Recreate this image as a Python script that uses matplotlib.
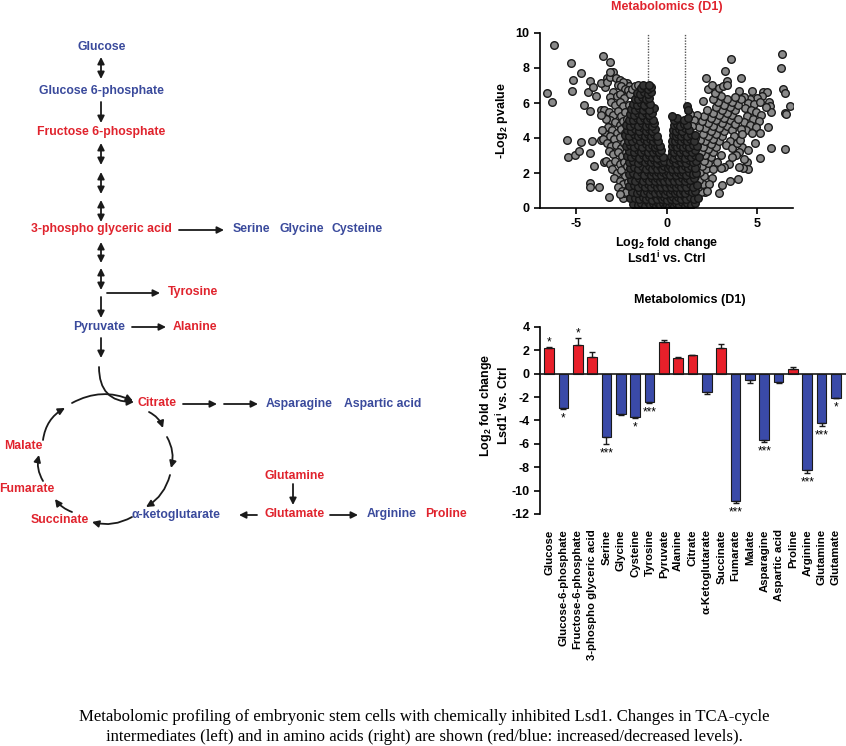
import matplotlib
matplotlib.use('Agg')
import matplotlib.pyplot as plt

plt.rcParams['font.family'] = ['Liberation Sans', 'DejaVu Sans']
plt.rcParams['font.weight'] = 'bold'
plt.rcParams['axes.unicode_minus'] = False
plt.rcParams['mathtext.fontset'] = 'custom'
plt.rcParams['mathtext.rm'] = 'Liberation Sans:bold'
plt.rcParams['mathtext.bf'] = 'Liberation Sans:bold'
plt.rcParams['mathtext.it'] = 'Liberation Sans:bold'
plt.rcParams['mathtext.default'] = 'bf'

RED = '#e0232d'
BLUE = '#3a4a9c'
BAR_RED = '#e8202a'
BAR_BLUE = '#3a4aa8'

# ---- bar chart data (log2 fold change, Lsd1i vs Ctrl) ----
bar_names = ['Glucose', 'Glucose-6-phosphate', 'Fructose-6-phosphate', '3-phospho glyceric acid',
             'Serine', 'Glycine', 'Cysteine', 'Tyrosine', 'Pyruvate', 'Alanine', 'Citrate',
             'α-Ketoglutarate', 'Succinate', 'Fumarate', 'Malate', 'Asparagine', 'Aspartic acid',
             'Proline', 'Arginine', 'Glutamine', 'Glutamate']
bar_values = [2.18, -2.9, 2.45, 1.42, -5.45, -3.45, -3.68, -2.45, 2.72, 1.38, 1.57,
              -1.55, 2.22, -10.9, -0.55, -5.7, -0.73, 0.42, -8.2, -4.2, -2.05]
bar_errors = [0.07, 0.08, 0.6, 0.45, 0.55, 0.05, 0.1, 0.08, 0.2, 0.05, 0.06,
              0.22, 0.32, 0.15, 0.28, 0.1, 0.07, 0.15, 0.25, 0.28, 0.05]
bar_stars = ['*', '*', '*', '', '***', '', '*', '***', '', '', '',
             '', '', '***', '', '***', '', '', '***', '***', '*']

# ---- volcano data (log2 fold change, -log2 pvalue) ----
outliers_left = [(-6.22, 9.31), (-5.3, 8.3), (-3.54, 8.69), (-3.11, 8.32), (-4.74, 7.73), (-5.2, 7.31),
                 (-4.24, 7.26), (-5.24, 6.69), (-6.59, 6.59), (-6.32, 6.07), (-4.37, 6.61), (-4.06, 6.9),
                 (-3.91, 6.42), (-4.56, 5.89), (-4.24, 5.56), (-3.63, 5.6), (-5.48, 3.89), (-4.74, 3.79),
                 (-4.13, 3.83), (-3.63, 3.89), (-5.43, 2.93), (-5.06, 3.03), (-4.83, 3.28), (-4.22, 3.16),
                 (-4.0, 2.42), (-3.44, 2.65), (-4.22, 1.45), (-4.22, 1.18), (-3.76, 1.22), (-3.2, 0.65),
                 (-2.43, 0.55), (-2.33, 0.86), (-3.4, 6.9), (-3.6, 7.15), (-3.3, 7.45), (-2.2, 7.15),
                 (-2.05, 6.95)]
outliers_right = [(6.37, 8.8), (6.33, 7.98), (3.59, 8.5), (3.22, 7.85), (2.2, 7.45), (4.15, 7.45),
                  (3.35, 7.28), (6.46, 6.78), (6.56, 6.59), (6.83, 5.83), (6.56, 5.41), (6.6, 5.35),
                  (6.56, 3.37), (5.78, 3.45), (4.89, 3.7), (5.17, 2.84), (4.43, 2.65), (4.52, 2.21),
                  (4.24, 2.27), (4.02, 2.32), (3.46, 2.51), (3.17, 2.36), (3.04, 2.27), (3.96, 1.64),
                  (3.5, 1.56), (3.09, 1.31), (2.91, 0.84), (2.11, 0.93), (2.0, 6.1), (2.3, 6.8), (2.5, 7.0)]
far_right = [(4.0, 6.7), (4.75, 6.7), (5.35, 6.65), (5.55, 6.6), (5.3, 6.4), (5.0, 6.3), (4.6, 6.25),
             (4.3, 6.35), (4.5, 6.0), (4.85, 5.95), (5.2, 6.05), (5.65, 6.05), (5.75, 5.8), (5.8, 5.5),
             (5.5, 5.75), (4.35, 5.7), (4.65, 5.6), (4.95, 5.5), (5.25, 5.3), (4.45, 5.25), (4.8, 5.1),
             (5.1, 4.95), (4.3, 4.9), (4.6, 4.75), (4.95, 4.6), (5.6, 4.65), (5.15, 4.3), (4.4, 4.45),
             (4.75, 4.3), (4.2, 3.5), (4.0, 3.2), (4.5, 3.3), (3.85, 3.0), (3.6, 2.9), (4.3, 2.8)]
mid_left = [(-3.3, 7.2), (-3.1, 7.5), (-2.95, 7.75), (-3.15, 7.78), (-2.8, 7.45), (-2.6, 7.3), (-2.4, 7.22),
            (-2.7, 7.05), (-2.5, 6.95), (-2.3, 6.8), (-2.15, 6.75), (-2.95, 6.6), (-3.15, 6.35), (-2.75, 6.4),
            (-2.55, 6.5), (-2.35, 6.3), (-3.05, 6.05), (-2.85, 5.9), (-2.6, 6.05), (-2.4, 5.8), (-3.45, 5.6),
            (-3.2, 5.5), (-2.95, 5.3), (-2.7, 5.55), (-2.5, 5.25), (-2.3, 5.5), (-3.1, 5.0), (-2.85, 4.9),
            (-2.6, 4.75), (-2.4, 4.95), (-3.25, 4.6), (-3.0, 4.45), (-2.75, 4.3), (-2.5, 4.5), (-3.4, 4.2),
            (-3.15, 4.1), (-2.9, 3.95), (-2.6, 4.05), (-3.5, 3.95), (-3.3, 3.7), (-3.05, 3.55), (-2.8, 3.6),
            (-2.5, 3.4), (-3.2, 3.25), (-2.95, 3.1), (-2.7, 3.2), (-2.45, 2.95), (-3.35, 2.7), (-3.1, 2.5),
            (-2.85, 2.7), (-2.6, 2.5), (-2.35, 2.6), (-3.0, 2.2), (-2.75, 2.0), (-2.5, 2.15), (-2.3, 1.85),
            (-2.9, 1.7), (-2.6, 1.55), (-2.4, 1.35), (-2.7, 1.2), (-2.45, 1.0), (-2.25, 0.9), (-2.55, 0.8),
            (-2.15, 1.5), (-2.2, 2.4), (-2.25, 3.2), (-2.35, 3.7), (-2.3, 4.3), (-2.2, 5.1), (-2.1, 5.9),
            (-2.0, 6.5), (-1.9, 6.8), (-1.75, 6.95), (-1.6, 7.0), (-3.35, 5.1), (-3.6, 5.3), (-3.55, 4.45)]
mid_right = [(1.7, 0.6), (1.9, 0.9), (1.75, 1.2), (2.0, 1.4), (1.8, 1.6), (2.1, 1.8), (1.85, 2.05), (2.2, 2.2),
             (1.95, 2.4), (2.3, 2.55), (2.05, 2.7), (2.45, 2.9), (2.15, 3.05), (1.9, 3.2), (2.6, 3.2),
             (2.3, 3.35), (2.0, 3.5), (2.75, 3.5), (2.45, 3.65), (2.15, 3.8), (1.85, 3.9), (2.9, 3.8),
             (2.6, 3.95), (2.3, 4.1), (2.0, 4.25), (3.05, 4.1), (2.75, 4.25), (2.45, 4.4), (2.15, 4.55),
             (1.8, 4.6), (3.2, 4.4), (2.9, 4.55), (2.6, 4.7), (2.3, 4.85), (1.95, 4.95), (3.35, 4.7),
             (3.05, 4.85), (2.75, 5.0), (2.45, 5.15), (2.1, 5.25), (1.7, 5.3), (3.5, 5.0), (3.2, 5.15),
             (2.9, 5.3), (2.6, 5.45), (2.25, 5.6), (3.65, 5.3), (3.35, 5.45), (3.05, 5.6), (2.75, 5.75),
             (3.8, 5.6), (3.5, 5.75), (3.2, 5.9), (2.85, 6.05), (2.55, 6.2), (3.95, 5.9), (3.65, 6.05),
             (3.35, 6.2), (3.0, 6.4), (2.7, 6.55), (4.1, 6.2), (3.8, 6.35), (2.9, 6.85), (3.15, 6.95),
             (3.35, 7.0), (3.6, 4.45), (3.8, 4.8), (3.95, 5.1), (4.1, 4.5), (3.75, 4.1), (3.5, 3.85),
             (3.3, 3.6), (3.6, 3.4), (3.9, 3.7), (4.05, 3.9), (4.2, 4.2), (1.6, 4.0), (1.65, 2.4), (1.55, 1.8),
             (2.5, 1.7), (2.35, 1.35), (2.25, 1.0), (2.6, 2.2), (2.8, 2.6), (3.0, 3.0), (1.5, 5.0), (1.4, 4.7),
             (1.3, 5.35), (1.45, 0.8)]
core_base = [(-1.85, 0.25), (-1.6, 0.15), (-1.4, 0.3), (-1.2, 0.12), (-1.05, 0.35), (-0.9, 0.18), (-0.75, 0.3),
             (-0.6, 0.1), (-0.48, 0.28), (-0.35, 0.15), (-0.22, 0.3), (-0.1, 0.08), (0.02, 0.2), (0.15, 0.05),
             (0.28, 0.25), (0.4, 0.12), (0.55, 0.3), (0.7, 0.15), (0.85, 0.32), (1.0, 0.1), (1.15, 0.28),
             (1.35, 0.18), (1.6, 0.3),
             (-2.0, 0.55), (-1.75, 0.6), (-1.5, 0.5), (-1.3, 0.65), (-1.12, 0.5), (-0.95, 0.62), (-0.8, 0.48),
             (-0.65, 0.66), (-0.5, 0.52), (-0.38, 0.7), (-0.25, 0.5), (-0.12, 0.62), (0.0, 0.45), (0.12, 0.68),
             (0.25, 0.5), (0.38, 0.65), (0.5, 0.48), (0.65, 0.62), (0.8, 0.5), (0.95, 0.66), (1.1, 0.5),
             (1.3, 0.62), (1.5, 0.52), (1.75, 0.58),
             (-1.9, 0.9), (-1.65, 0.85), (-1.45, 1.0), (-1.25, 0.85), (-1.08, 0.98), (-0.92, 0.82), (-0.78, 1.02),
             (-0.62, 0.88), (-0.48, 1.05), (-0.35, 0.85), (-0.22, 0.98), (-0.1, 0.82), (0.05, 1.0), (0.18, 0.85),
             (0.3, 1.02), (0.45, 0.88), (0.6, 1.0), (0.75, 0.84), (0.9, 1.0), (1.05, 0.86), (1.2, 1.02),
             (1.4, 0.9), (1.6, 1.0),
             (-2.05, 1.25), (-1.8, 1.3), (-1.58, 1.18), (-1.38, 1.35), (-1.18, 1.2), (-1.0, 1.38), (-0.85, 1.2),
             (-0.7, 1.36), (-0.55, 1.18), (-0.42, 1.35), (-0.28, 1.2), (-0.15, 1.38), (-0.02, 1.2), (0.12, 1.35),
             (0.25, 1.18), (0.38, 1.36), (0.52, 1.2), (0.66, 1.38), (0.8, 1.2), (0.95, 1.35), (1.1, 1.2),
             (1.28, 1.36), (1.48, 1.22), (1.7, 1.32),
             (-1.95, 1.6), (-1.72, 1.55), (-1.5, 1.7), (-1.3, 1.55), (-1.12, 1.72), (-0.95, 1.55), (-0.8, 1.7),
             (-0.65, 1.52), (-0.52, 1.7), (-0.38, 1.55), (-0.25, 1.72), (-0.12, 1.55), (0.02, 1.7), (0.15, 1.52),
             (0.28, 1.7), (0.42, 1.55), (0.56, 1.72), (0.7, 1.55), (0.85, 1.7), (1.0, 1.55), (1.15, 1.72),
             (1.32, 1.58), (1.52, 1.7),
             (-2.1, 1.95), (-1.85, 2.0), (-1.62, 1.88), (-1.42, 2.05), (-1.22, 1.9), (-1.05, 2.08), (-0.88, 1.9),
             (-0.72, 2.05), (-0.58, 1.88), (-0.45, 2.05), (-0.32, 1.9), (-0.18, 2.08), (-0.05, 1.92), (0.1, 2.05),
             (0.22, 1.88), (0.36, 2.05), (0.5, 1.9), (0.64, 2.08), (0.78, 1.92), (0.92, 2.05), (1.08, 1.9),
             (1.25, 2.05), (1.45, 1.92), (1.65, 2.02),
             (-2.0, 2.3), (-1.78, 2.35), (-1.55, 2.22), (-1.35, 2.4), (-1.15, 2.25), (-0.98, 2.42), (-0.82, 2.25),
             (-0.66, 2.4), (-0.52, 2.22), (-0.38, 2.4), (-0.25, 2.25), (-0.12, 2.4), (0.08, 2.3), (0.2, 2.42),
             (0.33, 2.25), (0.46, 2.4), (0.6, 2.22), (0.74, 2.4), (0.88, 2.25), (1.02, 2.42), (1.18, 2.28),
             (1.36, 2.4), (1.58, 2.3)]
core_left = [(-2.1, 2.6), (-1.85, 2.7), (-1.6, 2.58), (-1.4, 2.72), (-1.2, 2.6), (-1.02, 2.75), (-0.85, 2.6),
             (-0.7, 2.72), (-0.55, 2.58), (-0.4, 2.75), (-0.26, 2.6), (-0.12, 2.7),
             (-2.2, 2.95), (-1.95, 2.9), (-1.72, 3.02), (-1.5, 2.88), (-1.3, 3.0), (-1.12, 2.9), (-0.95, 3.05),
             (-0.8, 2.9), (-0.64, 3.02), (-0.5, 2.88), (-0.35, 3.0), (-0.2, 2.9),
             (-2.05, 3.25), (-1.82, 3.2), (-1.6, 3.32), (-1.4, 3.18), (-1.22, 3.3), (-1.05, 3.2), (-0.88, 3.35),
             (-0.72, 3.2), (-0.58, 3.32), (-0.42, 3.2), (-0.28, 3.3),
             (-2.25, 3.55), (-2.0, 3.6), (-1.78, 3.5), (-1.55, 3.62), (-1.35, 3.5), (-1.15, 3.65), (-0.98, 3.5),
             (-0.82, 3.62), (-0.66, 3.5), (-0.5, 3.62), (-0.36, 3.52),
             (-2.15, 3.85), (-1.9, 3.8), (-1.68, 3.92), (-1.45, 3.8), (-1.25, 3.95), (-1.08, 3.8), (-0.92, 3.92),
             (-0.76, 3.8), (-0.6, 3.95), (-0.45, 3.82),
             (-2.3, 4.15), (-2.05, 4.1), (-1.82, 4.22), (-1.6, 4.1), (-1.4, 4.25), (-1.2, 4.1), (-1.02, 4.22),
             (-0.86, 4.1), (-0.7, 4.25), (-0.55, 4.12),
             (-2.2, 4.45), (-1.95, 4.4), (-1.72, 4.52), (-1.5, 4.4), (-1.3, 4.55), (-1.12, 4.4), (-0.95, 4.52),
             (-0.8, 4.4), (-0.65, 4.5),
             (-2.25, 4.75), (-2.0, 4.7), (-1.78, 4.82), (-1.55, 4.7), (-1.35, 4.85), (-1.15, 4.7), (-0.98, 4.82),
             (-0.82, 4.7), (-0.7, 4.85),
             (-2.1, 5.05), (-1.88, 5.0), (-1.65, 5.12), (-1.45, 5.0), (-1.25, 5.15), (-1.06, 5.0), (-0.9, 5.12),
             (-0.75, 5.02),
             (-2.0, 5.35), (-1.78, 5.3), (-1.55, 5.42), (-1.35, 5.3), (-1.15, 5.45), (-0.98, 5.32), (-0.82, 5.45),
             (-0.68, 5.7),
             (-1.95, 5.65), (-1.72, 5.6), (-1.5, 5.72), (-1.3, 5.6), (-1.12, 5.75), (-0.95, 5.6),
             (-1.85, 5.95), (-1.62, 5.9), (-1.42, 6.02), (-1.22, 5.9), (-1.05, 6.05), (-0.9, 5.92),
             (-1.75, 6.25), (-1.55, 6.2), (-1.35, 6.32), (-1.15, 6.2), (-0.98, 6.3),
             (-1.65, 6.55), (-1.45, 6.5), (-1.25, 6.6), (-1.05, 6.5), (-0.88, 6.62),
             (-1.4, 6.85), (-1.22, 6.95), (-1.05, 6.8), (-0.88, 6.92), (-1.3, 7.05), (-0.95, 7.05)]
core_right = [(0.22, 2.6), (0.36, 2.72), (0.5, 2.58), (0.65, 2.75), (0.8, 2.6), (0.95, 2.72), (1.1, 2.58),
              (1.26, 2.72), (1.44, 2.6), (1.65, 2.7),
              (0.25, 2.95), (0.4, 2.88), (0.55, 3.02), (0.7, 2.9), (0.86, 3.0), (1.02, 2.88), (1.18, 3.02),
              (1.35, 2.9), (1.55, 3.0), (1.78, 2.9),
              (0.28, 3.25), (0.42, 3.2), (0.58, 3.32), (0.74, 3.2), (0.9, 3.32), (1.06, 3.2), (1.22, 3.35),
              (1.4, 3.22), (1.6, 3.3),
              (0.3, 3.55), (0.45, 3.6), (0.6, 3.5), (0.76, 3.62), (0.92, 3.5), (1.08, 3.62), (1.25, 3.5),
              (1.45, 3.6), (1.68, 3.55),
              (0.32, 3.85), (0.48, 3.8), (0.64, 3.92), (0.8, 3.8), (0.96, 3.95), (1.12, 3.82), (1.3, 3.92),
              (1.5, 3.8),
              (0.35, 4.15), (0.5, 4.1), (0.66, 4.22), (0.82, 4.1), (0.98, 4.25), (1.15, 4.1), (1.35, 4.2),
              (1.6, 4.15),
              (0.38, 4.45), (0.54, 4.4), (0.7, 4.52), (0.88, 4.42), (1.05, 4.55), (1.25, 4.45),
              (0.4, 4.75), (0.58, 4.8), (0.75, 4.7), (0.95, 4.82), (1.15, 4.72),
              (0.42, 5.05), (0.6, 5.15), (0.32, 5.25), (0.98, 5.05), (1.18, 5.12), (1.15, 5.85), (1.2, 5.6)]

fig = plt.figure(figsize=(8.46, 7.46), dpi=100)

# ---------------- pathway diagram (pixel coordinates) ----------------
ax0 = fig.add_axes([0, 0, 1, 1])
ax0.set_xlim(0, 846)
ax0.set_ylim(746, 0)
ax0.axis('off')


def arrow(x1, y1, x2, y2, style='-|>', rad=0.0):
    ax0.annotate('', xy=(x2, y2), xytext=(x1, y1),
                 arrowprops=dict(arrowstyle=style, color='#1a1a1a', lw=1.3, mutation_scale=10,
                                 shrinkA=0, shrinkB=0, connectionstyle=f'arc3,rad={rad}'))


def label(x, y, s, color, ha='center'):
    ax0.text(x, y, s, color=color, fontsize=8.8, fontweight='bold', ha=ha, va='center')


label(102, 47, 'Glucose', BLUE)
label(101, 91, 'Glucose 6-phosphate', BLUE)
label(101, 132, 'Fructose 6-phosphate', RED)
label(101, 229, '3-phospho glyceric acid', RED)
label(233, 229, 'Serine', BLUE, 'left')
label(279, 229, 'Glycine', BLUE, 'left')
label(331, 229, 'Cysteine', BLUE, 'left')
label(168, 292, 'Tyrosine', RED, 'left')
label(99, 327, 'Pyruvate', BLUE)
label(173, 327, 'Alanine', RED, 'left')
label(137, 403, 'Citrate', RED, 'left')
label(266, 404, 'Asparagine', BLUE, 'left')
label(344, 404, 'Aspartic acid', BLUE, 'left')
label(295, 476, 'Glutamine', RED)
label(295, 514, 'Glutamate', RED)
label(132, 515, 'α-ketoglutarate', BLUE, 'left')
label(367, 514, 'Arginine', BLUE, 'left')
label(425, 514, 'Proline', RED, 'left')
label(60, 520, 'Succinate', RED)
label(27, 489, 'Fumarate', RED)
label(23, 446, 'Malate', RED)

arrow(101, 57, 101, 79, '<|-|>')
arrow(101, 102, 101, 123)
arrow(101, 143, 101, 165, '<|-|>')
arrow(101, 172, 101, 194, '<|-|>')
arrow(101, 200, 101, 222, '<|-|>')
arrow(179, 230, 224, 230)
arrow(101, 242, 101, 263, '<|-|>')
arrow(101, 268, 101, 290, '<|-|>')
arrow(107, 293, 160, 293)
arrow(101, 297, 101, 318)
arrow(132, 327, 166, 327)
arrow(101, 338, 101, 358)
arrow(99, 367, 134, 402, rad=0.5)
arrow(183, 404, 217, 404)
arrow(224, 404, 258, 404)
arrow(293, 484, 293, 505)
arrow(257, 515, 239, 515)
arrow(330, 515, 358, 515)

# TCA cycle arcs
arrow(43, 440, 65, 408, rad=-0.25)
arrow(72, 403, 133, 401, rad=-0.25)
arrow(149, 412, 163, 428, rad=-0.2)
arrow(167, 437, 171, 468, rad=-0.2)
arrow(170, 475, 146, 507, rad=-0.2)
arrow(132, 517, 92, 522, rad=-0.2)
arrow(72, 512, 55, 499, rad=-0.15)
arrow(43, 481, 39, 455, rad=-0.2)

# caption
ax0.text(424, 717, 'Metabolomic profiling of embryonic stem cells with chemically inhibited Lsd1. '
         'Changes in TCA-cycle', fontsize=12.1, fontweight='normal', family='Liberation Serif',
         ha='center', va='center', color='black')
ax0.text(424, 737, 'intermediates (left) and in amino acids (right) are shown '
         '(red/blue: increased/decreased levels).', fontsize=12.1, fontweight='normal',
         family='Liberation Serif', ha='center', va='center', color='black')

# ---------------- volcano plot ----------------
axv = fig.add_axes([540 / 846, 1 - 208 / 746, 253 / 846, 175 / 746])
sparse = outliers_left + outliers_right + far_right + mid_left + mid_right
dense = core_base + core_left + core_right
axv.axvline(-1, color='#555555', lw=1, ls=(0, (1, 1)), zorder=1)
axv.axvline(1, color='#555555', lw=1, ls=(0, (1, 1)), zorder=1)
axv.scatter([p[0] for p in sparse], [p[1] for p in sparse], s=30, facecolor='#8a8a8a',
            edgecolor='#1a1a1a', linewidths=1.0, zorder=2)
axv.scatter([p[0] for p in dense], [p[1] for p in dense], s=30, facecolor='#333333',
            edgecolor='#151515', linewidths=1.0, zorder=3)
axv.set_xlim(-7, 7)
axv.set_ylim(0, 10)
axv.set_xticks([-5, 0, 5])
axv.set_yticks([0, 2, 4, 6, 8, 10])
for s in ['top', 'right']:
    axv.spines[s].set_visible(False)
for s in ['left', 'bottom']:
    axv.spines[s].set_linewidth(1.2)
    axv.spines[s].set_zorder(5)
axv.tick_params(width=1.2, length=4, labelsize=9)
for t in axv.get_xticklabels() + axv.get_yticklabels():
    t.set_fontweight('bold')
axv.set_ylabel('-Log$_2$ pvalue', fontsize=9, fontweight='bold', labelpad=4)
fig.text(667 / 846, 1 - 243 / 746, 'Log$_2$ fold change', fontsize=9, fontweight='bold',
         ha='center', va='center')
fig.text(667 / 846, 1 - 258 / 746, 'Lsd1$^i$ vs. Ctrl', fontsize=9, fontweight='bold',
         ha='center', va='center')
fig.text(667 / 846, 1 - 7 / 746, 'Metabolomics (D1)', fontsize=9, fontweight='bold', color=RED,
         ha='center', va='center')

# ---------------- bar chart ----------------
axb = fig.add_axes([540 / 846, 1 - 514 / 746, 306 / 846, 187 / 746])
xpos = list(range(len(bar_names)))
colors = [BAR_RED if v > 0 else BAR_BLUE for v in bar_values]
axb.bar(xpos, bar_values, width=0.68, color=colors, edgecolor='#1a1a1a', linewidth=0.8, zorder=2)
for x, v, e, st in zip(xpos, bar_values, bar_errors, bar_stars):
    axb.errorbar(x, v, yerr=[[0], [e]] if v > 0 else [[e], [0]], fmt='none', ecolor='#1a1a1a',
                 elinewidth=1, capsize=2.5, capthick=1, zorder=3)
    if st:
        if v > 0:
            axb.text(x, v + e + 0.15, st, fontsize=8.5, ha='center', va='baseline', fontweight='normal')
        else:
            axb.text(x, v - e - 0.3, st, fontsize=8.5, ha='center', va='top', fontweight='normal')
axb.axhline(0, color='#1a1a1a', lw=1.2, zorder=4)
axb.set_xlim(-0.63, 20.7)
axb.set_ylim(-12, 4)
axb.set_yticks(range(-12, 5, 2))
axb.set_xticks(xpos)
axb.set_xticklabels(bar_names, rotation=90, fontsize=8.2, fontweight='bold')
axb.tick_params(axis='x', length=0, pad=11)
axb.tick_params(axis='y', width=1.2, length=4, labelsize=9)
for t in axb.get_yticklabels():
    t.set_fontweight('bold')
for s in ['top', 'right', 'bottom']:
    axb.spines[s].set_visible(False)
axb.spines['left'].set_linewidth(1.2)
fig.text(486 / 846, 1 - 405 / 746, 'Log$_2$ fold change', fontsize=9, fontweight='bold',
         ha='center', va='center', rotation=90)
fig.text(503 / 846, 1 - 405 / 746, 'Lsd1$^i$ vs. Ctrl', fontsize=9, fontweight='bold',
         ha='center', va='center', rotation=90)
fig.text(690 / 846, 1 - 300 / 746, 'Metabolomics (D1)', fontsize=9, fontweight='bold',
         ha='center', va='center')

fig.savefig('out.png', dpi=100)
